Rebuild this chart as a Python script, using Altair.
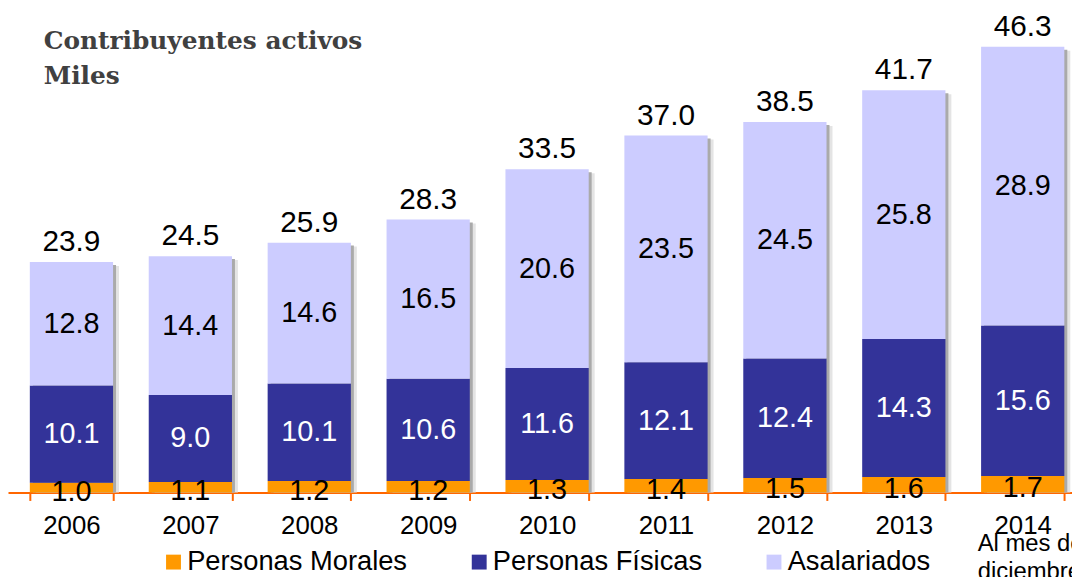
import altair as alt
import pandas as pd

years = ["2006", "2007", "2008", "2009", "2010", "2011", "2012", "2013", "2014"]
morales = [1.0, 1.1, 1.2, 1.2, 1.3, 1.4, 1.5, 1.6, 1.7]
fisicas = [10.1, 9.0, 10.1, 10.6, 11.6, 12.1, 12.4, 14.3, 15.6]
asalariados = [12.8, 14.4, 14.6, 16.5, 20.6, 23.5, 24.5, 25.8, 28.9]
totales = [23.9, 24.5, 25.9, 28.3, 33.5, 37.0, 38.5, 41.7, 46.3]

series = ["Personas Morales", "Personas Físicas", "Asalariados"]
colors = ["#FF9900", "#333399", "#CCCCFF"]
text_colors = ["#000000", "#FFFFFF", "#000000"]

rows = []
for i, yr in enumerate(years):
    base = 0.0
    for s, vals, tc in zip(series, [morales, fisicas, asalariados], text_colors):
        v = vals[i]
        rows.append({"year": yr, "serie": s, "value": v, "y0": base, "y1": base + v,
                     "mid": base + v / 2, "label": f"{v:.1f}", "tcolor": tc})
        base += v
df = pd.DataFrame(rows)
df_low = df[df["serie"] == "Personas Morales"]
df_up = df[df["serie"] != "Personas Morales"]

tot = pd.DataFrame({
    "year": years,
    "top": [m + f + a for m, f, a in zip(morales, fisicas, asalariados)],
    "label": [f"{t:.1f}" for t in totales],
})

FONT = "Liberation Sans"

xenc = alt.X("year:O",
             scale=alt.Scale(paddingInner=0.3, paddingOuter=0.124, align=0.74, round=False),
             axis=alt.Axis(title=None, labelAngle=0, labelFont=FONT, labelFontSize=26,
                           labelColor="#000000", domainColor="#FF6600", domainWidth=2,
                           tickColor="#FF6600", tickWidth=2, tickSize=8, tickBand="extent",
                           labelPadding=12))
yscale = alt.Scale(domain=[0, 50])

shadow2 = alt.Chart(tot).mark_bar(color="#e4e4e4", xOffset=6, yOffset=4).encode(
    x=xenc, y=alt.Y("top:Q", scale=yscale, axis=None), y2=alt.datum(0))
shadow1 = alt.Chart(tot).mark_bar(color="#aaaaaa", xOffset=3, yOffset=3).encode(
    x=xenc, y=alt.Y("top:Q", scale=yscale, axis=None), y2=alt.datum(0))

bars = alt.Chart(df).mark_bar().encode(
    x=xenc,
    y=alt.Y("y0:Q", scale=yscale, axis=None),
    y2="y1:Q",
    color=alt.Color("serie:N",
                    scale=alt.Scale(domain=series, range=colors),
                    legend=alt.Legend(orient="none", legendX=153, legendY=542,
                                      direction="horizontal", title=None,
                                      symbolType="square", symbolSize=225,
                                      symbolStrokeWidth=0, labelFont=FONT,
                                      labelFontSize=27.5, labelColor="#000000",
                                      labelLimit=400, columnPadding=58, padding=0,
                                      labelOffset=0)),
)

seg_labels = alt.Chart(df_up).mark_text(font=FONT, fontSize=29, baseline="middle").encode(
    x=xenc,
    y=alt.Y("mid:Q", scale=yscale, axis=None),
    text="label:N",
    color=alt.Color("tcolor:N", scale=None),
)
low_labels = alt.Chart(df_low).mark_text(font=FONT, fontSize=29, baseline="middle", dy=4,
                                         color="#000000").encode(
    x=xenc,
    y=alt.Y("mid:Q", scale=yscale, axis=None),
    text="label:N",
)

tot_labels = alt.Chart(tot).mark_text(font=FONT, fontSize=30, baseline="alphabetic", dy=-11,
                                      color="#000000").encode(
    x=xenc,
    y=alt.Y("top:Q", scale=yscale, axis=None),
    text="label:N",
)

title = alt.Chart(pd.DataFrame({"t": [["Contribuyentes activos", "Miles"]]})).mark_text(
    font="DejaVu Serif", fontWeight="bold", fontSize=25, color="#404040", align="left",
    baseline="alphabetic", lineHeight=35).encode(
    x=alt.value(36), y=alt.value(39), text="t")

note = alt.Chart(pd.DataFrame({"t": [["Al mes de", "diciembre"]]})).mark_text(
    font=FONT, fontSize=24, color="#000000", align="left", baseline="alphabetic",
    lineHeight=28).encode(
    x=alt.value(977), y=alt.value(545), text="t")

chart = alt.layer(shadow2, shadow1, bars, seg_labels, low_labels, tot_labels, title, note).resolve_scale(
    color="independent"
).properties(
    width=1072, height=486,
    padding={"left": 0, "top": 0, "right": 0, "bottom": 83},
    autosize=alt.AutoSizeParams(type="none"),
    background="#FFFFFF",
).configure_view(stroke=None)

chart.save("out.html", embed_options={"renderer": "svg", "actions": False})
